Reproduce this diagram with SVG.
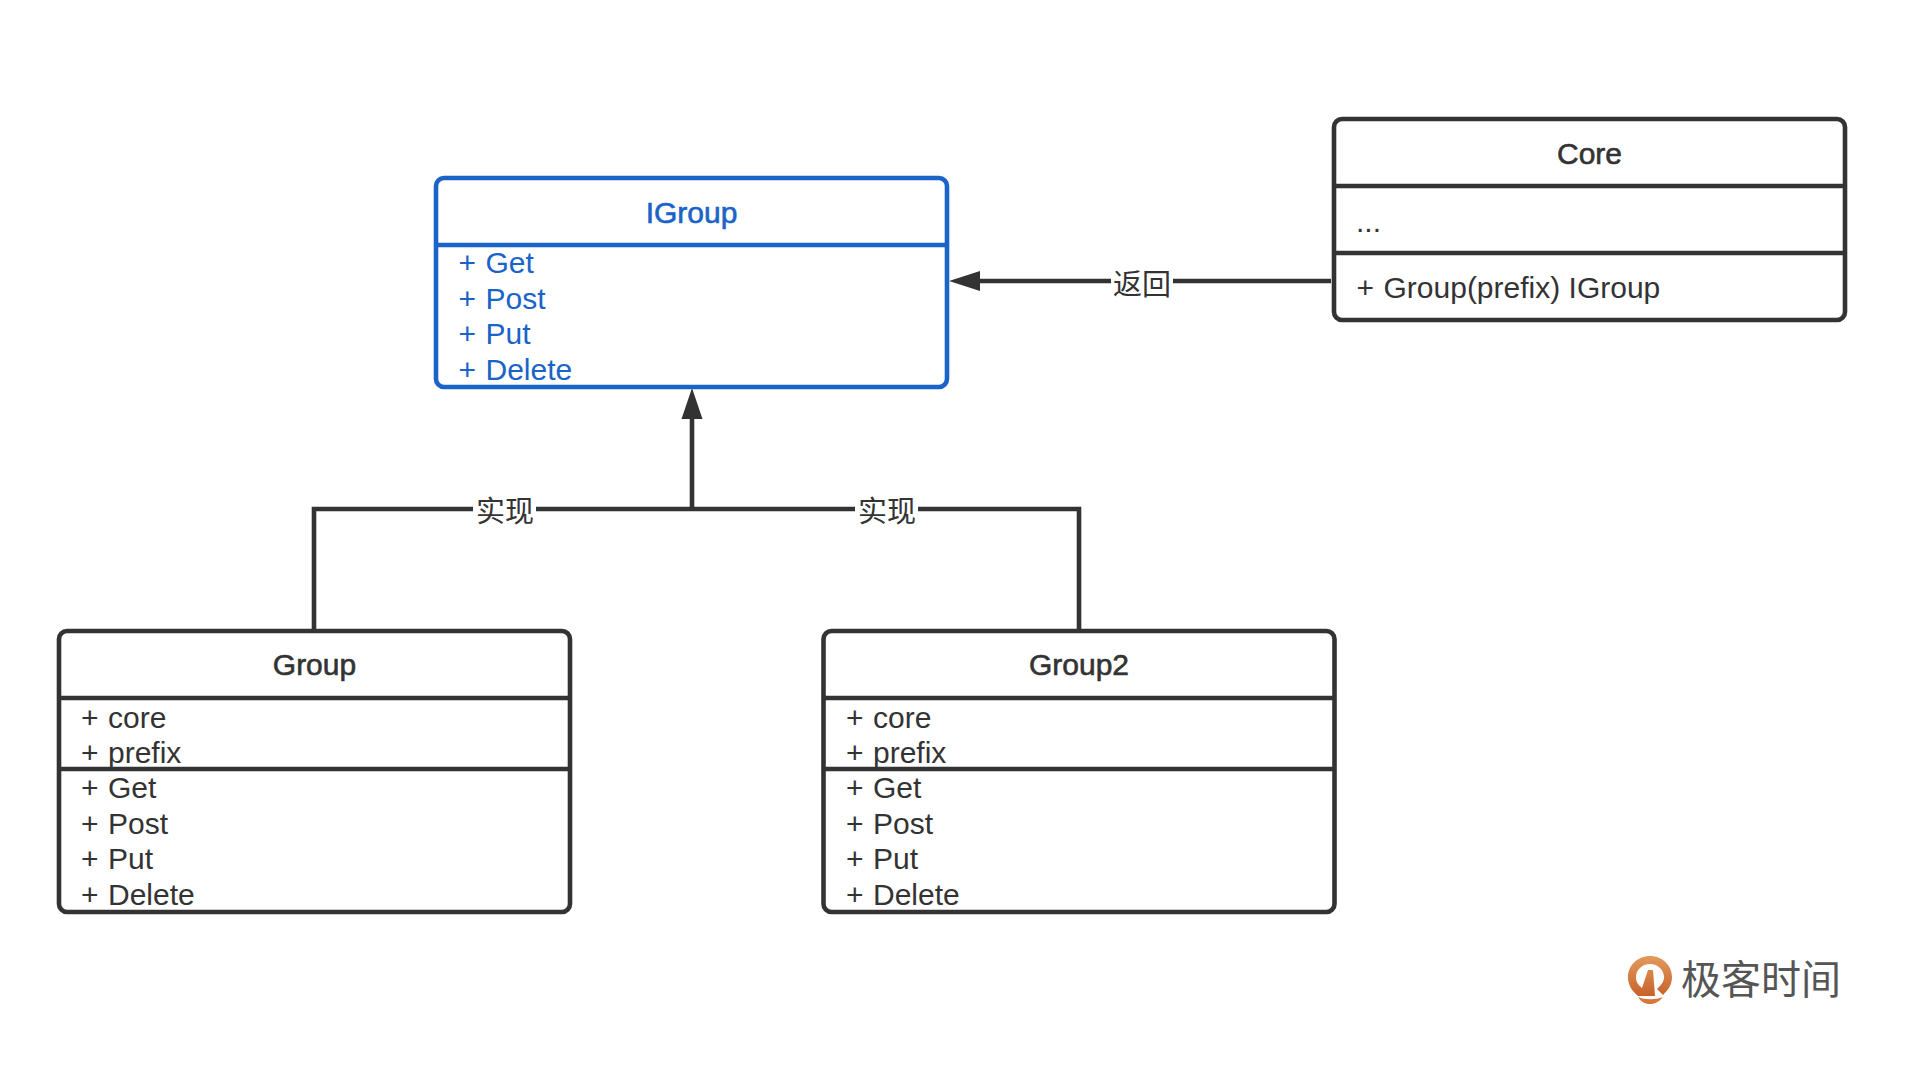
<svg xmlns="http://www.w3.org/2000/svg" width="1920" height="1080" viewBox="0 0 1920 1080">
<defs>
<linearGradient id="lg" x1="0" y1="0" x2="0" y2="1"><stop offset="0" stop-color="#e39a5c"/><stop offset="1" stop-color="#c8622b"/></linearGradient>
</defs>
<style>
text{font-family:"Liberation Sans","Noto Sans CJK SC",sans-serif;font-size:30px;fill:#333}
.t{text-anchor:middle;stroke:#333;stroke-width:.6}
.b{fill:none;stroke:#333;stroke-width:4.6}
.blue text{fill:#1a63c8}
.blue .t{stroke:#1a63c8}
.blue .b{stroke:#1a63c8}
.c{fill:none;stroke:#333;stroke-width:4.6}
.h{fill:#333}
.l{text-anchor:middle;font-family:"Noto Sans CJK SC",sans-serif;font-size:29px}
</style>
<rect width="1920" height="1080" fill="#fff"/>
<g id="connectors">
<path class="c" d="M692 415V509M314 631V509H1079V631"/>
<polygon class="h" points="692,388 702.5,419 681.5,419"/>
<path class="c" d="M978 281H1331"/>
<polygon class="h" points="949,281 980,271 980,291"/>
<rect x="473" y="495" width="63" height="30" fill="#fff"/>
<rect x="855" y="495" width="63" height="30" fill="#fff"/>
<rect x="1111" y="268" width="62" height="30" fill="#fff"/>
<text class="l" x="505" y="522">实现</text>
<text class="l" x="887" y="522">实现</text>
<text class="l" x="1142" y="295">返回</text>
</g>
<g id="igroup" class="blue">
<text class="t" x="691.5" y="223">IGroup</text>
<text x="458.5" y="273">+<tspan x="485.5">Get</tspan></text>
<text x="458.5" y="309">+<tspan x="485.5">Post</tspan></text>
<text x="458.5" y="344">+<tspan x="485.5">Put</tspan></text>
<text x="458.5" y="380">+<tspan x="485.5">Delete</tspan></text>
<rect class="b" x="436" y="178" width="511" height="209" rx="8"/>
<path class="b" d="M436 245H947"/>
</g>
<g id="core">
<text class="t" x="1589.5" y="164">Core</text>
<text x="1356" y="232">...</text>
<text x="1356.5" y="298">+<tspan x="1383.5">Group(prefix) IGroup</tspan></text>
<rect class="b" x="1334" y="119" width="511" height="201" rx="8"/>
<path class="b" d="M1334 186H1845M1334 253H1845"/>
</g>
<g id="group">
<text class="t" x="314.5" y="675">Group</text>
<text x="81" y="728">+<tspan x="108">core</tspan></text>
<text x="81" y="763">+<tspan x="108">prefix</tspan></text>
<text x="81" y="798">+<tspan x="108">Get</tspan></text>
<text x="81" y="834">+<tspan x="108">Post</tspan></text>
<text x="81" y="869">+<tspan x="108">Put</tspan></text>
<text x="81" y="905">+<tspan x="108">Delete</tspan></text>
<rect class="b" x="59" y="631" width="511" height="281" rx="8"/>
<path class="b" d="M59 698H570M59 769H570"/>
</g>
<g id="group2">
<text class="t" x="1079" y="675">Group2</text>
<text x="846" y="728">+<tspan x="873">core</tspan></text>
<text x="846" y="763">+<tspan x="873">prefix</tspan></text>
<text x="846" y="798">+<tspan x="873">Get</tspan></text>
<text x="846" y="834">+<tspan x="873">Post</tspan></text>
<text x="846" y="869">+<tspan x="873">Put</tspan></text>
<text x="846" y="905">+<tspan x="873">Delete</tspan></text>
<rect class="b" x="823.5" y="631" width="511" height="281" rx="8"/>
<path class="b" d="M823.5 698H1334.5M823.5 769H1334.5"/>
</g>
<g id="logo">
<path fill="url(#lg)" d="M1650 956C1663 956 1672 966 1672 977C1672 985 1668 990 1663 995L1657 989C1661 985 1664 982 1664 977C1664 970 1658 964 1650 964C1642 964 1636 970 1636 977C1636 982 1638 985 1642 988L1648 970L1653 970L1655 996L1645 996L1638 996C1632 991 1628 985 1628 977C1628 966 1637 956 1650 956Z"/>
<path fill="#d9763a" d="M1638 997C1645 1000 1655 1000 1663 997C1658 1003 1654 1004 1650 1004C1646 1004 1642 1003 1638 997Z"/>
<text x="1681" y="994" style="font-family:'Noto Sans CJK SC',sans-serif;font-size:40px;fill:#555">极客时间</text>
</g>
</svg>
